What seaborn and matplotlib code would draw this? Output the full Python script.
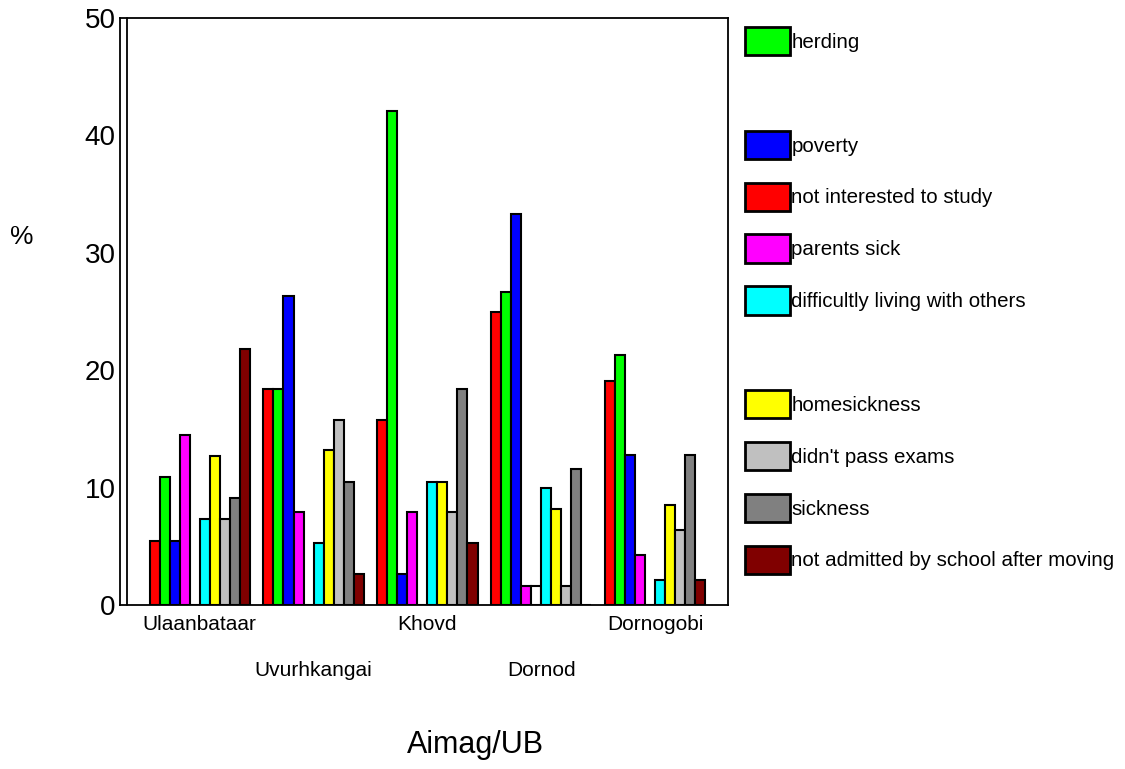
import pandas as pd
import matplotlib.pyplot as plt
import matplotlib.transforms as mtransforms
from matplotlib.patches import Patch
import seaborn as sns

aimags = ['Ulaanbataar', 'Uvurhkangai', 'Khovd', 'Dornod', 'Dornogobi']
reasons = ['not interested to study', 'herding', 'poverty', 'parents sick', 'other',
           'difficultly living with others', 'homesickness', "didn't pass exams",
           'sickness', 'not admitted by school after moving']
colors = ['#ff0000', '#00ff00', '#0000ff', '#ff00ff', '#ffffff',
          '#00ffff', '#ffff00', '#c0c0c0', '#808080', '#800000']

# percent per aimag, in the order of `reasons`
ulaanbataar = [5.45, 10.9, 5.45, 14.5, 0, 7.3, 12.7, 7.3, 9.1, 21.8]
uvurhkangai = [18.4, 18.4, 26.3, 7.9, 0, 5.3, 13.2, 15.8, 10.5, 2.6]
khovd = [15.8, 42.1, 2.6, 7.9, 0, 10.5, 10.5, 7.9, 18.4, 5.3]
dornod = [25.0, 26.7, 33.3, 1.6, 1.6, 10.0, 8.2, 1.6, 11.6, 0]
dornogobi = [19.1, 21.3, 12.8, 4.3, 0, 2.1, 8.5, 6.4, 12.8, 2.1]

legend_order = ['herding', None, 'poverty', 'not interested to study', 'parents sick',
                'difficultly living with others', None, 'homesickness',
                "didn't pass exams", 'sickness', 'not admitted by school after moving']

rows = []
for a, vals in zip(aimags, [ulaanbataar, uvurhkangai, khovd, dornod, dornogobi]):
    for r, v in zip(reasons, vals):
        rows.append({'aimag': a, 'reason': r, 'pct': v})
df = pd.DataFrame(rows)

sns.set_style('white')
plt.rcParams['font.family'] = ['Liberation Sans', 'DejaVu Sans']
plt.rcParams['text.color'] = 'black'
plt.rcParams['xtick.color'] = 'black'
plt.rcParams['ytick.color'] = 'black'

fig = plt.figure(figsize=(11.25, 7.69), dpi=100)
ax = fig.add_axes([120 / 1125, 1 - 605 / 769, 608 / 1125, 587 / 769])

sns.barplot(data=df, x='aimag', y='pct', hue='reason', hue_order=reasons,
            order=aimags, palette=colors, saturation=1, width=0.88,
            edgecolor='black', linewidth=1.5, legend=False, ax=ax)

ax.set_ylim(0, 50)
ax.set_xlim(-0.70, 4.64)
ax.set_yticks([0, 10, 20, 30, 40, 50])
ax.set_xlabel('')
ax.set_ylabel('')
for s in ax.spines.values():
    s.set_visible(True)
    s.set_color('black')
    s.set_linewidth(1.3)
ax.plot([0.011, 0.011], [0, 1], transform=ax.transAxes, color='black', lw=1.3, clip_on=False)

ax.tick_params(axis='y', direction='inout', length=6, width=2.5, labelsize=20, pad=0)
ax.tick_params(axis='x', direction='out', length=5, width=2.5, labelsize=15, pad=2)
for i, lab in enumerate(ax.get_xticklabels()):
    lab.set_color('black')
    if i % 2 == 1:
        lab.set_transform(lab.get_transform() +
                          mtransforms.ScaledTranslation(0, -0.46, fig.dpi_scale_trans))
for lab in ax.get_yticklabels():
    lab.set_color('black')

fig.text(475 / 1125, 1 - 745 / 769, 'Aimag/UB', ha='center', va='center', fontsize=22)
fig.text(22 / 1125, 1 - 237 / 769, '%', ha='center', va='center', fontsize=19)

handles, labels = [], []
for name in legend_order:
    if name is None:
        handles.append(Patch(facecolor='none', edgecolor='none'))
        labels.append('')
    else:
        handles.append(Patch(facecolor=colors[reasons.index(name)], edgecolor='black', linewidth=2))
        labels.append(name)
fig.legend(handles, labels, loc='upper left', bbox_to_anchor=(745 / 1125, 1 - 27 / 769),
           frameon=False, fontsize=14.8, handlelength=2.2, handleheight=1.75,
           handletextpad=0.05, labelspacing=1.14, borderpad=0, borderaxespad=0)

fig.savefig('out.png', dpi=100)
